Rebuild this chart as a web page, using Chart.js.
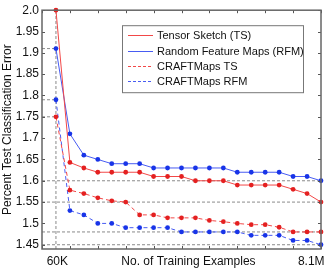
<!DOCTYPE html>
<html>
<head>
<meta charset="utf-8">
<script src="https://cdn.jsdelivr.net/npm/chart.js@4.4.1/dist/chart.umd.min.js"></script>
<style>
  html, body { margin: 0; padding: 0; background: #fff; }
  canvas { display: block; }
</style>
</head>
<body>
<canvas id="chart" width="332" height="269"></canvas>
<script>
// positions of the training sizes along the axis (60K ... 8.1M)
const xPos = [1, 2, 3, 4, 5, 6, 7, 8, 9, 10, 11, 12, 13, 14, 15, 16, 17, 18, 19, 20];

const tsErr = [2.0, 1.643, 1.63, 1.62, 1.62, 1.62, 1.62, 1.61, 1.61, 1.61,
               1.60, 1.60, 1.60, 1.59, 1.59, 1.59, 1.59, 1.58, 1.57, 1.55];
const rfmErr = [1.91, 1.71, 1.66, 1.65, 1.64, 1.64, 1.64, 1.63, 1.63, 1.63,
                1.63, 1.63, 1.63, 1.62, 1.62, 1.62, 1.62, 1.61, 1.61, 1.60];
const craftTsErr = [1.75, 1.578, 1.57, 1.56, 1.553, 1.55, 1.52, 1.52, 1.513, 1.513,
                    1.513, 1.507, 1.504, 1.50, 1.497, 1.497, 1.491, 1.48, 1.48, 1.48];
const craftRfmErr = [1.79, 1.53, 1.52, 1.50, 1.50, 1.49, 1.49, 1.49, 1.49, 1.48,
                     1.48, 1.48, 1.48, 1.48, 1.472, 1.472, 1.472, 1.46, 1.46, 1.45];

const seriesNames = ['Tensor Sketch (TS)', 'Random Feature Maps (RFM)', 'CRAFTMaps TS', 'CRAFTMaps RFM'];

const yTicks = [1.45, 1.5, 1.55, 1.6, 1.65, 1.7, 1.75, 1.8, 1.85, 1.9, 1.95, 2.0];
const yTickLabels = ['1.45', '1.5', '1.55', '1.6', '1.65', '1.7', '1.75', '1.8', '1.85', '1.9', '1.95', '2.0'];
// label anchors along x
const xTicks = [1.1, 10.5, 19.3];
const xTickLabels = ['60K', 'No. of Training Examples', '8.1M'];
const xMarks = [0, 2, 4, 6, 8, 10, 12, 14, 16, 18, 20];

const X_MIN = 0, X_MAX = 20, Y_MIN = 1.44, Y_MAX = 2.0;

const RED_LINE = 'rgb(242,72,72)', RED_PT = 'rgb(228,32,32)';
const BLUE_LINE = 'rgb(72,92,242)', BLUE_PT = 'rgb(24,52,232)';
const REF = '#8a8a8a';

const allSeries = [tsErr, rfmErr, craftTsErr, craftRfmErr];
const styles = [
    { line: RED_LINE, pt: RED_PT, dash: [] },
    { line: BLUE_LINE, pt: BLUE_PT, dash: [] },
    { line: RED_LINE, pt: RED_PT, dash: [4, 3] },
    { line: BLUE_LINE, pt: BLUE_PT, dash: [4, 3] }
];

function refLine(points) {
    return {
        data: points,
        borderColor: REF,
        borderWidth: 1,
        borderDash: [3, 2],
        pointRadius: 0,
        order: 10
    };
}

const datasets = [];
// dashed guides: vertical at the first size, horizontals at start and end values
datasets.push(refLine([{ x: xPos[0], y: Y_MIN }, { x: xPos[0], y: Y_MAX }]));
allSeries.forEach(s => {
    datasets.push(refLine([{ x: X_MIN, y: s[0] }, { x: xPos[0], y: s[0] }]));
    datasets.push(refLine([{ x: X_MIN, y: s[s.length - 1] }, { x: X_MAX, y: s[s.length - 1] }]));
});
allSeries.forEach((s, i) => {
    datasets.push({
        label: seriesNames[i],
        data: s.map((v, k) => ({ x: xPos[k], y: v })),
        borderColor: styles[i].line,
        borderWidth: 1,
        borderDash: styles[i].dash,
        pointRadius: 2.4,
        pointBackgroundColor: styles[i].pt,
        pointBorderColor: styles[i].pt,
        pointBorderWidth: 0,
        tension: 0,
        clip: false,
        order: 1
    });
});

const boxAndTicks = {
    id: 'boxAndTicks',
    afterDatasetsDraw(chart) {
        const { ctx, chartArea: a, scales: { x, y } } = chart;
        ctx.save();
        ctx.strokeStyle = '#555';
        ctx.lineWidth = 1;
        ctx.beginPath();
        xMarks.forEach(v => {
            const px = Math.round(x.getPixelForValue(v)) + 0.5;
            ctx.moveTo(px, a.top); ctx.lineTo(px, a.top + 3);
            ctx.moveTo(px, a.bottom); ctx.lineTo(px, a.bottom - 3);
        });
        yTicks.forEach(v => {
            const py = Math.round(y.getPixelForValue(v)) + 0.5;
            ctx.moveTo(a.left, py); ctx.lineTo(a.left + 3, py);
            ctx.moveTo(a.right, py); ctx.lineTo(a.right - 3, py);
        });
        ctx.stroke();
        ctx.strokeStyle = '#666';
        ctx.lineWidth = 1.5;
        ctx.strokeRect(a.left, a.top, a.right - a.left, a.bottom - a.top);
        ctx.restore();
    },
    afterDraw(chart) {
        const { ctx, chartArea: a } = chart;
        const lx = a.left + 80, ly = a.top + 15, lw = 181, lh = 67;
        ctx.save();
        ctx.fillStyle = '#fff';
        ctx.fillRect(lx, ly, lw, lh);
        ctx.strokeStyle = '#777';
        ctx.lineWidth = 1;
        ctx.strokeRect(lx + 0.5, ly + 0.5, lw, lh);
        ctx.font = '11px "Liberation Sans", Arial, sans-serif';
        ctx.textBaseline = 'middle';
        seriesNames.forEach((name, i) => {
            const rowY = Math.round(ly + 10 + i * 15.4) + 0.5;
            ctx.strokeStyle = styles[i].line;
            ctx.setLineDash(styles[i].dash.length ? [3, 2] : []);
            ctx.beginPath();
            ctx.moveTo(lx + 6, rowY);
            ctx.lineTo(lx + 31, rowY);
            ctx.stroke();
            ctx.setLineDash([]);
            ctx.fillStyle = '#111';
            ctx.fillText(name, lx + 35, rowY);
        });
        ctx.restore();
    }
};

new Chart(document.getElementById('chart'), {
    type: 'line',
    data: { datasets },
    options: {
        responsive: false,
        animation: false,
        layout: { padding: { top: 8, right: 11, bottom: 0, left: 0 } },
        plugins: {
            legend: { display: false },
            tooltip: { enabled: false }
        },
        scales: {
            x: {
                type: 'linear',
                min: X_MIN,
                max: X_MAX,
                grid: { display: false, drawTicks: false },
                border: { display: false },
                afterBuildTicks: scale => { scale.ticks = xTicks.map(v => ({ value: v })); },
                afterFit: scale => { scale.height = 20; scale.paddingLeft = 0; scale.paddingRight = 0; },
                ticks: {
                    autoSkip: false,
                    maxRotation: 0,
                    padding: 5,
                    color: '#111',
                    font: { family: '"Liberation Sans", Arial, sans-serif', size: 12 },
                    callback: (v, i) => xTickLabels[i]
                }
            },
            y: {
                min: Y_MIN,
                max: Y_MAX,
                grid: { display: false, drawTicks: false },
                border: { display: false },
                afterBuildTicks: scale => { scale.ticks = yTicks.map(v => ({ value: v })); },
                afterFit: scale => { scale.width = 42; },
                ticks: {
                    autoSkip: false,
                    padding: 3,
                    color: '#111',
                    font: { family: '"Liberation Sans", Arial, sans-serif', size: 12 },
                    callback: (v, i) => yTickLabels[i]
                },
                title: {
                    display: true,
                    text: 'Percent Test Classification Error',
                    color: '#111',
                    padding: { top: 0, bottom: 0 },
                    font: { family: '"Liberation Sans", Arial, sans-serif', size: 12 }
                }
            }
        }
    },
    plugins: [boxAndTicks]
});
</script>
</body>
</html>
